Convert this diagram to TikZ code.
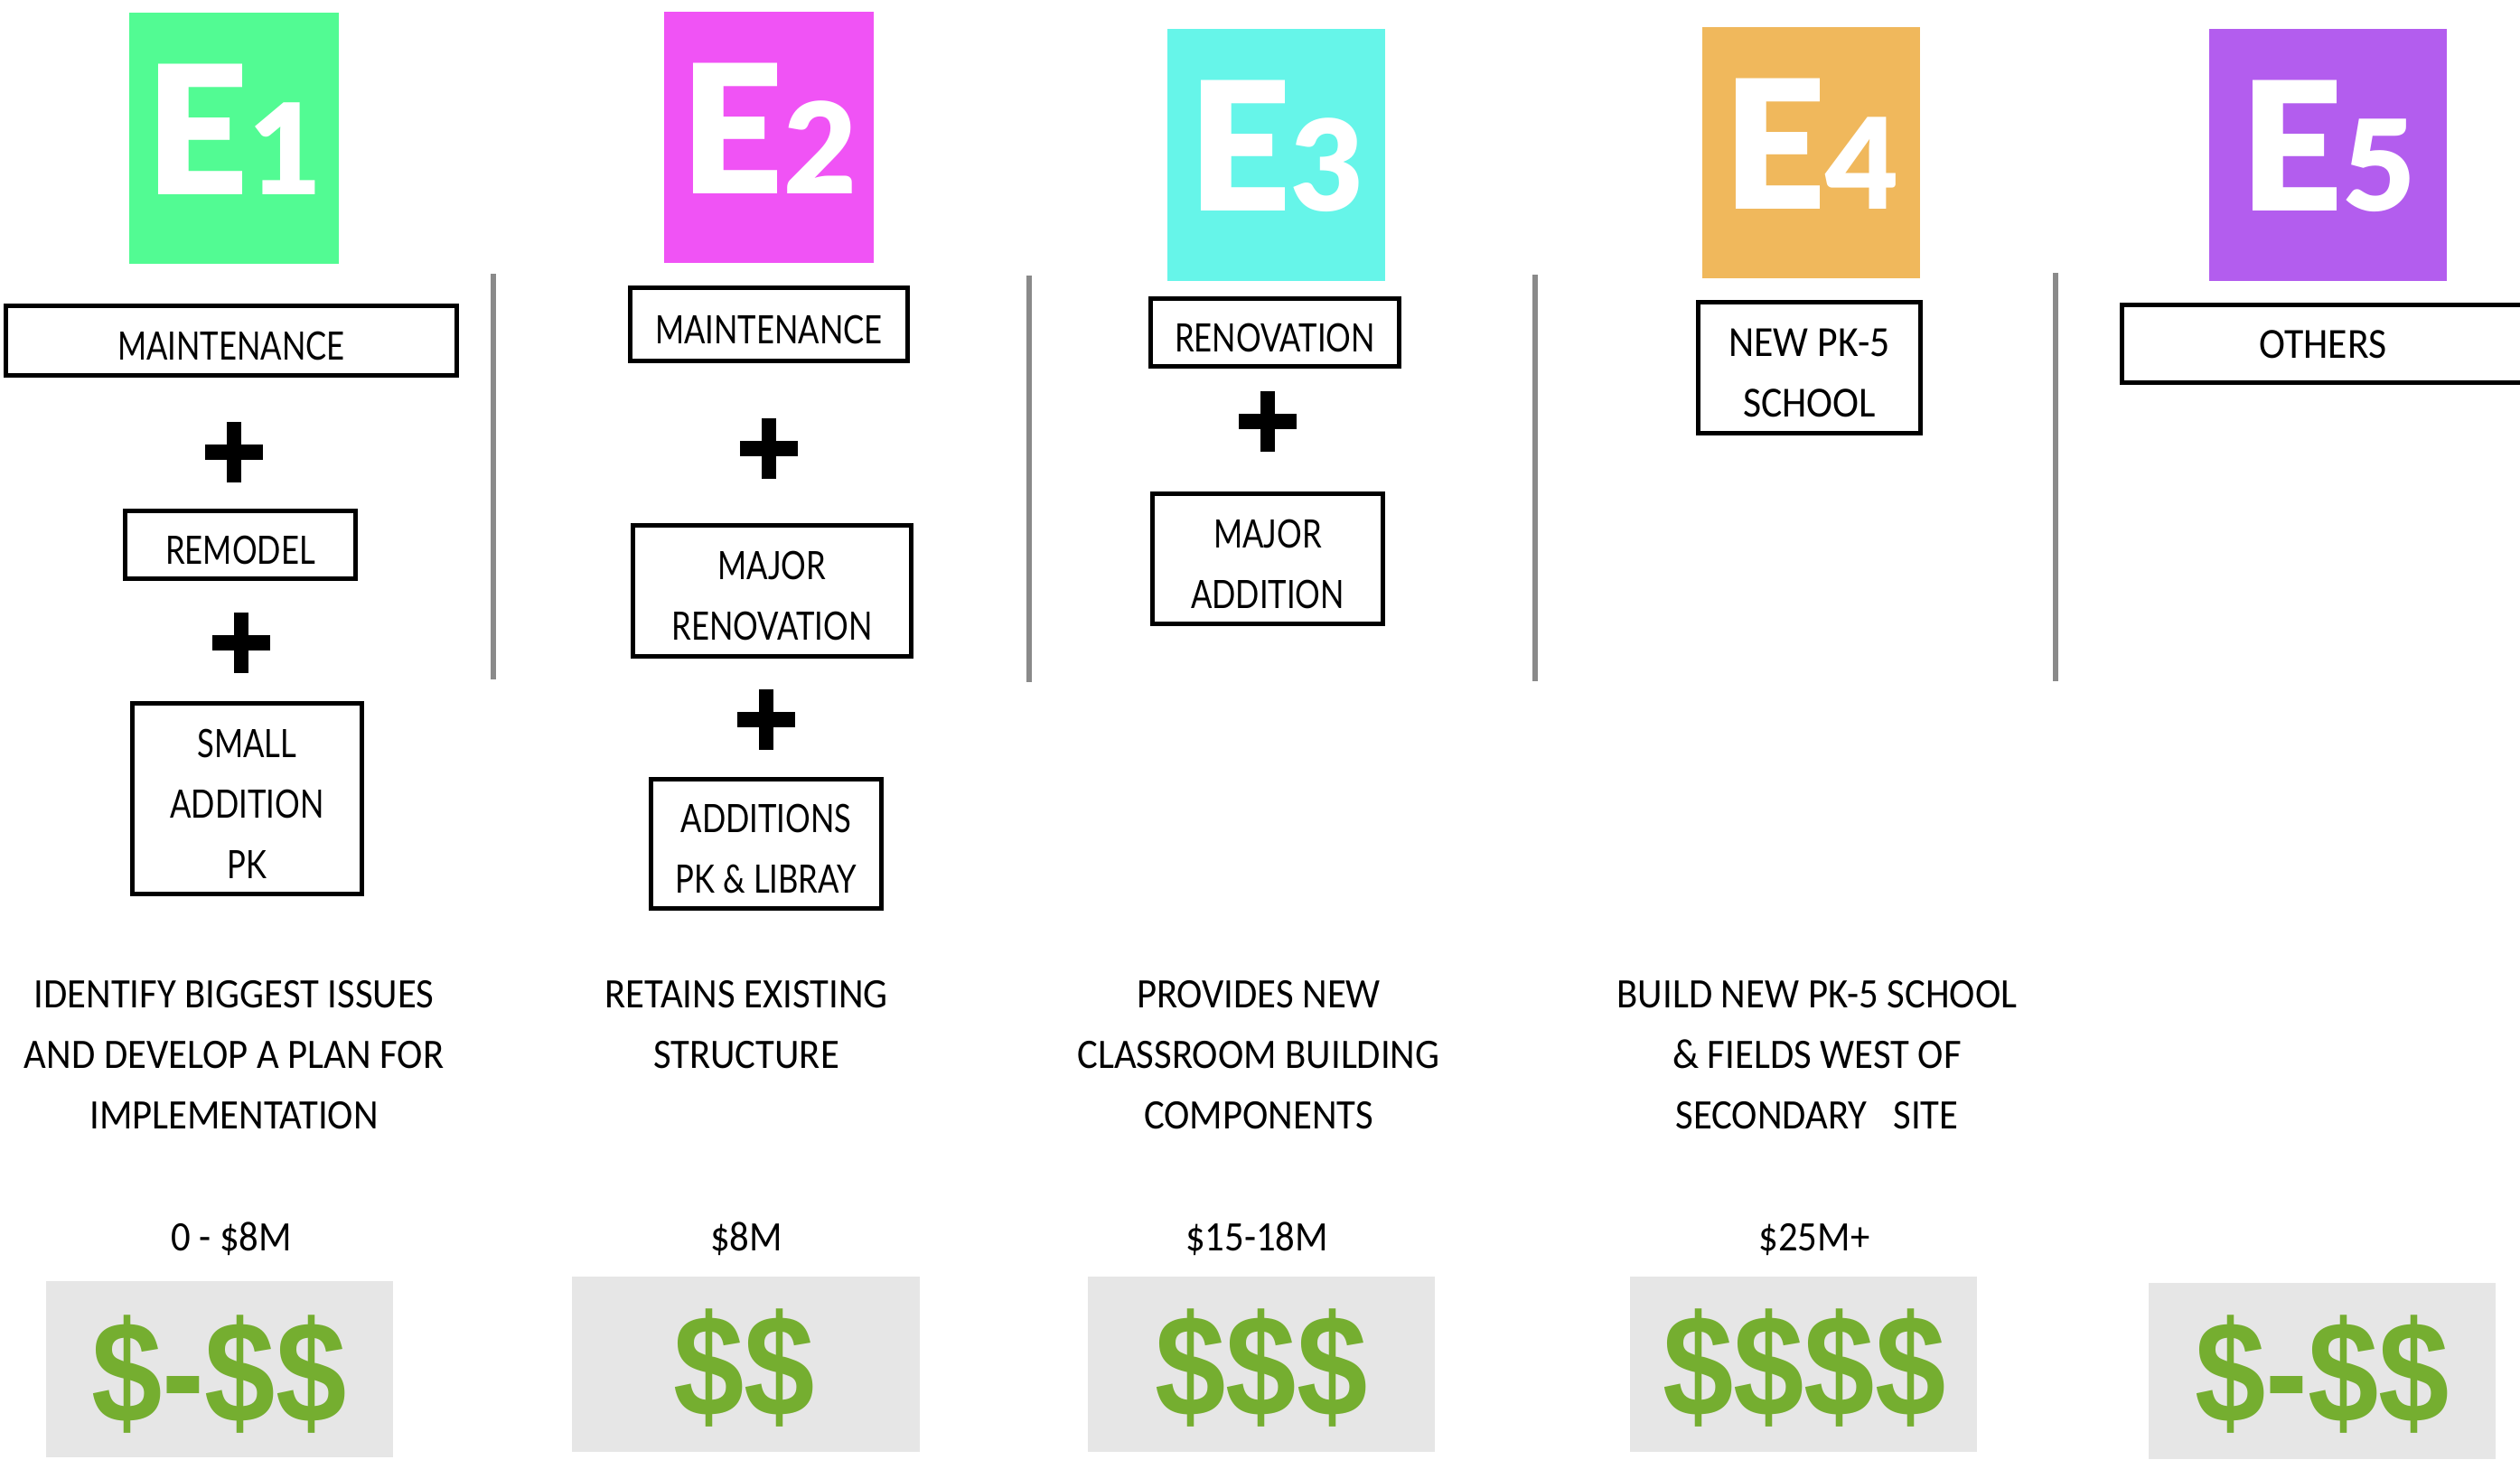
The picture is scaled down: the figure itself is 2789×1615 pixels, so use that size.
\documentclass[tikz,border=0pt]{standalone}
\usepackage{fontspec}
\newfontfamily\labelfont[FakeStretch=0.8]{Lato}
\newfontfamily\headfont{Lato Black}
\newfontfamily\descfont[FakeStretch=0.92]{Carlito}
\newfontfamily\dollarfont[FakeStretch=0.88]{Liberation Sans}
\definecolor{eone}{HTML}{52FB93}
\definecolor{etwo}{HTML}{F053F5}
\definecolor{ethree}{HTML}{66F5E9}
\definecolor{efour}{HTML}{F0B85C}
\definecolor{efive}{HTML}{B35DEE}
\definecolor{cashgreen}{HTML}{75AE30}
\definecolor{cashgray}{HTML}{E6E6E6}
\definecolor{rulegray}{HTML}{8A8A8A}
% struts that place the capitals inside their boxes
\newcommand\capstrut{\rule{0pt}{0.43cm}}
\newcommand\headstrut{\rule[-0.2cm]{0pt}{0.2cm}}
\newcommand\descstrut{\rule{0pt}{0.30cm}}
\begin{document}
\begin{tikzpicture}[x=0.01cm,y=-0.01cm,
  headbox/.style={inner sep=0pt,minimum width=#1,minimum height=2.78cm,
    font=\headfont\fontsize{56.4}{60}\selectfont,text=white},
  optbox/.style={draw,line width=1.45pt,inner sep=0pt,align=center,
    font=\labelfont\fontsize{12.3}{19.06}\selectfont},
  optboxc/.style={draw,line width=1.45pt,inner sep=0pt,align=center,
    font=\descfont\fontsize{13.5}{19.06}\selectfont},
  desc/.style={inner sep=0pt,align=center,anchor=north,
    font=\descfont\fontsize{13.2}{19.06}\selectfont},
  price/.style={inner sep=0pt,anchor=base,
    font=\descfont\fontsize{13.2}{19.06}\selectfont},
  cashbox/.style={fill=cashgray,inner sep=0pt,minimum width=3.84cm,minimum height=1.94cm},
  cash/.style={inner sep=0pt,anchor=base,text=cashgreen,
    font=\dollarfont\bfseries\fontsize{45.5}{48}\selectfont},
  divider/.style={draw=rulegray,line width=1.45pt},
  plus/.pic={\fill (-32,-8.5) rectangle (32,8.5); \fill (-8,-33.5) rectangle (8,33.5);}
]
\useasboundingbox (0,0) rectangle (2789,1615);
\newcommand\nb[1]{{\fontsize{39.7}{42}\selectfont #1}}

% ---- option headers
\node[headbox=2.32cm,fill=eone]   (e1) at (259,153)    {\headstrut E\nb{1}};
\node[headbox=2.32cm,fill=etwo]   (e2) at (851,152)    {\headstrut E\nb{2}};
\node[headbox=2.41cm,fill=ethree] (e3) at (1412.5,171.5) {\headstrut E\nb{3}};
\node[headbox=2.41cm,fill=efour]  (e4) at (2004.5,169)  {\headstrut E\nb{4}};
\node[headbox=2.63cm,fill=efive]  (e5) at (2576.5,171.5) {\headstrut E\nb{5}};

% ---- column dividers
\coordinate (d1t) at (546,303);  \coordinate (d1b) at (546,752);
\coordinate (d2t) at (1139,305); \coordinate (d2b) at (1139,755);
\coordinate (d3t) at (1699,304); \coordinate (d3b) at (1699,754);
\coordinate (d4t) at (2275,302); \coordinate (d4b) at (2275,754);
\draw[divider] (d1t) -- (d1b);
\draw[divider] (d2t) -- (d2b);
\draw[divider] (d3t) -- (d3b);
\draw[divider] (d4t) -- (d4b);

% ---- E1 scope
\node[optbox,minimum width=4.99cm,minimum height=0.77cm] (m1) at (256,377) {\capstrut MAINTENANCE};
\pic at (259,500) {plus};
\node[optbox,minimum width=2.55cm,minimum height=0.75cm] (r1) at (266,603) {\capstrut REMODEL};
\pic at (267,711) {plus};
\node[optbox,minimum width=2.54cm,minimum height=2.11cm] (s1) at (273.5,884) {\capstrut SMALL\\ADDITION\\PK};

% ---- E2 scope
\node[optbox,minimum width=3.07cm,minimum height=0.81cm] (m2) at (851,359) {\capstrut MAINTENANCE};
\pic at (851,496) {plus};
\node[optbox,minimum width=3.08cm,minimum height=1.45cm] (mr2) at (854.5,654) {\capstrut MAJOR\\RENOVATION};
\pic at (848,796) {plus};
\node[optbox,minimum width=2.55cm,minimum height=1.43cm] (a2) at (848,934) {\capstrut ADDITIONS\\PK \& LIBRAY};

% ---- E3 scope
\node[optbox,minimum width=2.75cm,minimum height=0.75cm] (r3) at (1411,368) {\capstrut RENOVATION};
\pic at (1403,466) {plus};
\node[optbox,minimum width=2.55cm,minimum height=1.44cm] (ma3) at (1403,618.5) {\capstrut MAJOR\\ADDITION};

% ---- E4 / E5 scope
\node[optboxc,minimum width=2.46cm,minimum height=1.45cm] (n4) at (2002.5,407) {\rule{0pt}{0.42cm}NEW PK-5\\SCHOOL};
\node[optboxc,minimum width=4.45cm,minimum height=0.86cm] (o5) at (2571,380.5) {\rule{0pt}{0.33cm}OTHERS};

% ---- descriptions
\node[desc] (t1) at (259,1085)  {\descstrut IDENTIFY BIGGEST ISSUES\\AND DEVELOP A PLAN FOR\\IMPLEMENTATION};
\node[desc] (t2) at (826,1085)  {\descstrut RETAINS EXISTING\\STRUCTURE};
\node[desc] (t3) at (1393,1085) {\descstrut PROVIDES NEW\\CLASSROOM BUILDING\\COMPONENTS};
\node[desc] (t4) at (2011,1085) {\descstrut BUILD NEW PK-5 SCHOOL\\\& FIELDS WEST OF\\SECONDARY\ \ \ SITE};

% ---- budgets
\node[price] (p1) at (256,1384)  {0 - \$8M};
\node[price] (p2) at (826,1384)  {\$8M};
\node[price] (p3) at (1391,1384) {\$15-18M};
\node[price] (p4) at (2008,1384) {\$25M+};

% ---- cost scale
\node[cashbox] (g1) at (243,1515.5) {};
\node[cashbox] (g2) at (825.5,1510) {};
\node[cashbox] (g3) at (1396,1510)  {};
\node[cashbox] (g4) at (1996,1510)  {};
\node[cashbox] (g5) at (2570,1517.5) {};
\node[cash] (c1) at (242.5,1574) {\$-\$\$};
\node[cash] (c2) at (824,1567)   {\$\$};
\node[cash] (c3) at (1396,1567)  {\$\$\$};
\node[cash] (c4) at (1997,1567)  {\$\$\$\$};
\node[cash] (c5) at (2570,1574)  {\$-\$\$};
\end{tikzpicture}
\end{document}
